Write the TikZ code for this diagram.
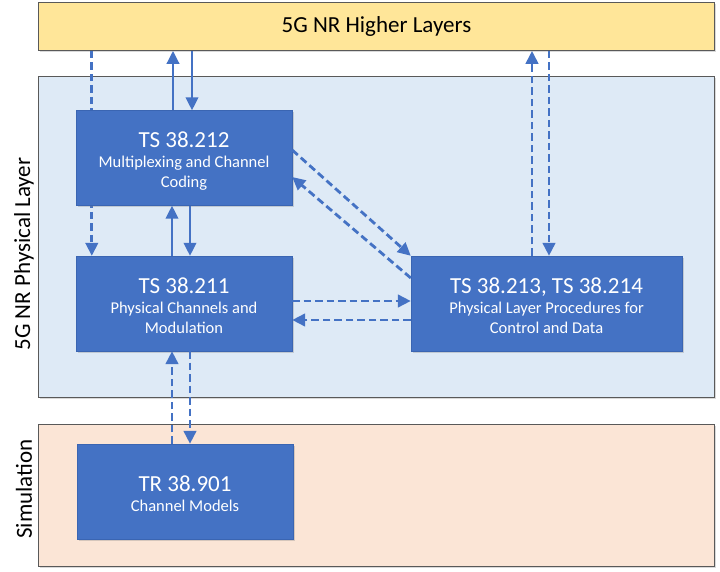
\documentclass[tikz,border=0pt]{standalone}
\usepackage{fontspec}
\setmainfont{Carlito}
\usetikzlibrary{arrows.meta,backgrounds,shadows}
\definecolor{specblue}{HTML}{4472C4}
\definecolor{specedge}{HTML}{3A65B2}
\definecolor{phyfill}{HTML}{DEEAF6}
\definecolor{simfill}{HTML}{FBE5D6}
\definecolor{hlfill}{HTML}{FFE699}
\definecolor{regedge}{HTML}{595959}
\newcommand{\ttlfont}{\fontsize{23}{27}\selectfont}
\newcommand{\subfont}{\fontsize{16.5}{20}\selectfont}
\newcommand{\ttlstrut}{\rule{0pt}{21pt}}

\begin{document}
\begin{tikzpicture}[x=1pt, y=-1pt,
  region/.style={draw=regedge, line width=0.9pt, anchor=north west, inner sep=0pt,
    minimum width=676pt, drop shadow={shadow xshift=1.5pt, shadow yshift=-1.5pt, opacity=0.3}},
  spec/.style={draw=specedge, fill=specblue, text=white, minimum width=216pt,
    minimum height=95pt, align=center, font=\subfont,
    drop shadow={shadow xshift=1.5pt, shadow yshift=-1.5pt, opacity=0.3}},
  sarr/.style={specblue, line width=2.4pt, -{Triangle[length=13pt,width=12.5pt]}},
  darr/.style={sarr, line width=2.8pt, dash pattern=on 7.5pt off 4pt}
]
\useasboundingbox (0,0) rectangle (720,572);
\begin{pgfonlayer}{background}
\node[region, fill=hlfill, minimum height=48pt, font=\ttlfont] (hl) at (38,2) {5G NR Higher Layers};
\node[region, fill=phyfill, minimum height=321pt] (phy) at (38,76) {};
\node[region, fill=simfill, minimum height=142pt] (sim) at (38,424) {};
\end{pgfonlayer}
\node[rotate=90, font=\ttlfont] (phylbl) at (24,254) {5G NR Physical Layer};
\node[rotate=90, font=\ttlfont] (simlbl) at (24,489) {Simulation};

\node[spec] (p212) at (184,158) {\ttlstrut{\ttlfont TS 38.212}\\Multiplexing and Channel\\Coding};
\node[spec] (p211) at (184,303.5) {\ttlstrut{\ttlfont TS 38.211}\\Physical Channels and\\Modulation};
\node[spec, minimum width=271pt] (p213) at (546.5,303.5) {\ttlstrut{\ttlfont TS 38.213, TS 38.214}\\Physical Layer Procedures for\\Control and Data};
\node[spec] (p901) at (185,491.5) {\ttlstrut{\ttlfont TR 38.901}\\Channel Models};

\begin{pgfonlayer}{background}
\draw[darr] ([xshift=16pt]p211.north west |- hl.south) -- ([xshift=16pt]p211.north west);
\end{pgfonlayer}
\draw[sarr] ([xshift=-11pt]p212.north) -- ([xshift=-11pt]p212.north |- hl.south);
\draw[sarr] ([xshift=8pt]p212.north |- hl.south) -- ([xshift=8pt]p212.north);
\draw[sarr] ([xshift=-12pt]p211.north) -- ([xshift=-12pt]p211.north |- p212.south);
\draw[sarr] ([xshift=6pt]p211.north |- p212.south) -- ([xshift=6pt]p211.north);
\draw[darr] ([yshift=8pt]p212.east) -- (p213.north west);
\draw[darr] ([yshift=25.5pt]p213.west) -- ([yshift=-19pt]p212.east);
\draw[darr] ([yshift=2.5pt]p211.east) -- ([yshift=2.5pt]p213.west);
\draw[darr] ([yshift=-16.5pt]p213.west) -- ([yshift=-16.5pt]p211.east);
\draw[darr] ([xshift=-14.5pt]p213.north) -- ([xshift=-14.5pt]p213.north |- hl.south);
\draw[darr] ([xshift=2.5pt]p213.north |- hl.south) -- ([xshift=2.5pt]p213.north);
\draw[darr] ([xshift=-13pt]p901.north) -- ([xshift=-13pt]p901.north |- p211.south);
\draw[darr] ([xshift=5pt]p901.north |- p211.south) -- ([xshift=5pt]p901.north);
\end{tikzpicture}
\end{document}
